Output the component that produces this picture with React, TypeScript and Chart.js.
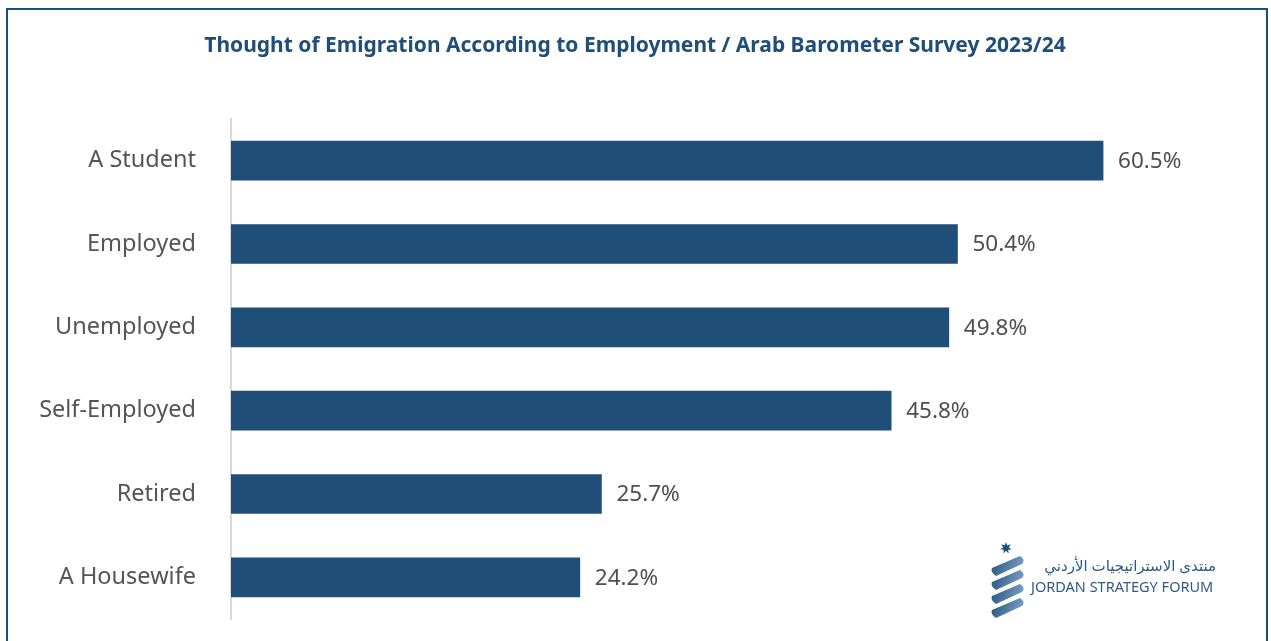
import React, { useEffect, useRef } from "react";
import { Chart, registerables } from "chart.js";

Chart.register(...registerables);

const categories = ["A Student", "Employed", "Unemployed", "Self-Employed", "Retired", "A Housewife"];
const values = [60.5, 50.4, 49.8, 45.8, 25.7, 24.2];
const titleText = "Thought of Emigration According to Employment / Arab Barometer Survey 2023/24";
const logoArabic = "منتدى الاستراتيجيات الأردني";
const logoEnglish = "JORDAN STRATEGY FORUM";

const BLUE = "#1F4E79";

const overlayPlugin = {
  id: "overlay",
  afterDatasetsDraw(chart: any) {
    const ctx = chart.ctx;
    const meta = chart.getDatasetMeta(0);
    ctx.save();
    ctx.font = "22.5px 'Noto Sans'";
    ctx.fillStyle = "#4f4f4f";
    ctx.textAlign = "left";
    ctx.textBaseline = "middle";
    meta.data.forEach((bar: any, i: number) => {
      ctx.fillText(values[i].toFixed(1) + "%", bar.x + 15, bar.y + 1);
    });
    ctx.restore();
  },
  afterDraw(chart: any) {
    const ctx = chart.ctx;
    ctx.save();
    ctx.font = "bold 21px 'Noto Sans'";
    ctx.fillStyle = BLUE;
    ctx.textAlign = "center";
    ctx.textBaseline = "middle";
    ctx.fillText(titleText, 635, 46);

    const cx = 1006;
    ctx.fillStyle = BLUE;
    ctx.beginPath();
    const n = 7;
    for (let k = 0; k < n * 2; k++) {
      const r = k % 2 === 0 ? 6 : 2.8;
      const a = -Math.PI / 2 + (k * Math.PI) / n;
      const px = cx + r * Math.cos(a);
      const py = 548 + r * Math.sin(a);
      if (k === 0) ctx.moveTo(px, py);
      else ctx.lineTo(px, py);
    }
    ctx.closePath();
    ctx.fill();
    for (let s = 0; s < 4; s++) {
      const y0 = 556 + s * 14;
      const g = ctx.createLinearGradient(990, y0, 1024, y0 + 14);
      g.addColorStop(0, "#1F4E79");
      g.addColorStop(1, "#7FA3C6");
      ctx.fillStyle = g;
      ctx.beginPath();
      ctx.moveTo(1020, y0);
      ctx.quadraticCurveTo(1026, y0 + 4, 1022, y0 + 8);
      ctx.lineTo(996, y0 + 20);
      ctx.quadraticCurveTo(990, y0 + 16, 992, y0 + 12);
      ctx.closePath();
      ctx.fill();
    }
    ctx.fillStyle = "#2E5A86";
    ctx.font = "15px 'Noto Sans', 'DejaVu Sans'";
    ctx.direction = "rtl";
    ctx.textAlign = "right";
    ctx.textBaseline = "middle";
    ctx.fillText(logoArabic, 1216, 567);
    ctx.direction = "ltr";
    ctx.textAlign = "left";
    ctx.font = "14.5px 'Noto Sans'";
    ctx.fillText(logoEnglish, 1031, 588);
    ctx.restore();
  },
};

export default function App() {
  const ref = useRef<HTMLCanvasElement | null>(null);
  useEffect(() => {
    document.body.style.margin = "0";
    const chart = new Chart(ref.current as HTMLCanvasElement, {
      type: "bar",
      data: {
        labels: categories,
        datasets: [
          {
            data: values,
            backgroundColor: BLUE,
            barThickness: 39,
          },
        ],
      },
      options: {
        indexAxis: "y",
        animation: false,
        responsive: false,
        layout: { padding: { top: 119, bottom: 22, left: 0, right: 31 } },
        plugins: { legend: { display: false }, tooltip: { enabled: false }, title: { display: false } },
        scales: {
          x: { display: false, min: 0, max: 70 },
          y: {
            afterFit: (s: any) => {
              s.width = 231;
              s.paddingTop = 0;
              s.paddingBottom = 0;
            },
            grid: { display: false, drawTicks: false },
            border: { display: true, color: "#d9d9d9", width: 2 },
            ticks: {
              padding: 35,
              color: "#555555",
              font: { size: 23.5, family: "'Noto Sans'" },
            },
          },
        },
      },
      plugins: [overlayPlugin],
    });
    return () => chart.destroy();
  }, []);
  return (
    <div style={{ position: "relative", width: 1271, height: 641, background: "#fff", overflow: "hidden" }}>
      <canvas ref={ref} width={1271} height={641} style={{ position: "absolute", left: 0, top: 0 }} />
      <div
        style={{
          position: "absolute",
          left: 6,
          top: 8,
          width: 1258,
          height: 660,
          border: "2px solid " + BLUE,
          pointerEvents: "none",
        }}
      />
    </div>
  );
}
